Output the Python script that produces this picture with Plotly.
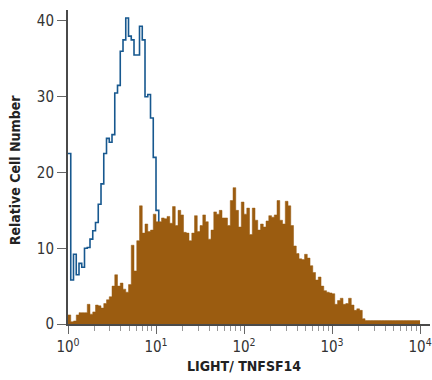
import plotly.graph_objects as go

# Histogram channels: 128 log-spaced bins spanning 10^0 .. 10^4
n_bins = 128
decades = 4

# Isotype control (blue outline) counts, first bins
control_counts = [22.5, 5.8, 9.2, 6.5, 8.0, 7.5, 10.0, 10.1, 11.2, 12.3,
                  13.4, 15.8, 18.5, 22.5, 24.5, 24.0, 25.0, 30.5, 31.5, 36.0,
                  37.5, 40.4, 38.0, 37.5, 35.5, 35.5, 39.3, 37.5, 30.0, 30.3,
                  27.2, 22.0, 15.0, 11.5, 7.0, 4.0, 2.5, 1.5, 0.8, 0.3, 0.0]

# LIGHT/TNFSF14 stained (filled brown) counts
stained_counts = [1.2, 0.3, 0.4, 1.2, 1.5, 1.5, 1.5, 2.6, 1.3, 1.6,
                  2.5, 2.4, 2.1, 2.7, 3.2, 3.6, 5.0, 6.5, 5.0, 5.4,
                  4.6, 4.2, 5.2, 10.4, 7.0, 11.0, 15.6, 12.0, 13.2, 12.2,
                  12.4, 14.5, 13.5, 13.5, 14.0, 13.9, 14.2, 13.3, 15.5, 13.0,
                  15.0, 14.4, 12.1, 12.0, 11.0, 12.0, 14.3, 12.2, 13.0, 14.4,
                  13.5, 11.2, 12.4, 14.8, 14.5, 15.0, 14.0, 14.0, 13.0, 16.3,
                  18.0, 15.0, 12.8, 16.1, 14.5, 15.3, 11.8, 15.3, 13.7, 12.4,
                  13.2, 12.8, 13.6, 14.3, 14.1, 14.4, 16.3, 13.7, 13.2, 16.2,
                  15.6, 13.0, 10.3, 9.3, 8.6, 8.5, 9.2, 8.7, 7.7, 6.8,
                  5.8, 6.2, 5.0, 4.4, 4.2, 4.1, 4.0, 2.6, 3.1, 3.4,
                  2.6, 2.7, 3.4, 2.5, 1.8, 2.0, 1.8, 0.7] + [0.45] * 20

x_tick_vals = [1, 10, 100, 1000, 10000]
x_tick_text = ["10<sup>0</sup>", "10<sup>1</sup>", "10<sup>2</sup>",
               "10<sup>3</sup>", "10<sup>4</sup>"]
y_tick_vals = [0, 10, 20, 30, 40]
x_title = "LIGHT/ TNFSF14"
y_title = "Relative Cell Number"

edges = [10 ** (decades * i / n_bins) for i in range(n_bins + 1)]


def step_xy(counts):
    xs = edges[:len(counts) + 1]
    ys = list(counts) + [counts[-1]]
    return xs, ys


FONT = "Liberation Sans Narrow, DejaVu Sans Condensed, Arial Narrow, sans-serif"
BROWN = "#9b5c10"
BLUE = "#17588f"

fig = go.Figure()
cx, cy = step_xy(control_counts)
fig.add_trace(go.Scatter(x=cx, y=cy, mode="lines", line_shape="hv",
                         line=dict(color=BLUE, width=1.6), hoverinfo="skip"))
sx, sy = step_xy(stained_counts)
fig.add_trace(go.Scatter(x=sx, y=sy, mode="lines", line_shape="hv",
                         fill="tozeroy", fillcolor=BROWN,
                         line=dict(color=BROWN, width=0.5), hoverinfo="skip"))

minor_vals = [m * 10 ** d for d in range(decades) for m in range(2, 10)]

fig.update_layout(
    width=432, height=380,
    margin=dict(l=68, r=0, t=10, b=56),
    paper_bgcolor="white", plot_bgcolor="white",
    showlegend=False,
    font=dict(family=FONT, color="#333333", size=15),
    xaxis=dict(type="log", range=[0, 4.113], showgrid=False, zeroline=False,
               showline=True, linecolor="#4a4a4a", linewidth=2,
               ticks="outside", ticklen=8, tickcolor="#666666", tickwidth=1,
               tickmode="array", tickvals=x_tick_vals, ticktext=x_tick_text,
               ticklabeloverflow="allow",
               tickfont=dict(family=FONT, size=15, color="#333333"),
               minor=dict(tickmode="array", tickvals=minor_vals, ticks="outside",
                          ticklen=5, tickcolor="#999999", tickwidth=1,
                          showgrid=False)),
    yaxis=dict(range=[0, 41.45], showgrid=False, zeroline=False,
               showline=True, linecolor="#4a4a4a", linewidth=2,
               ticks="outside", ticklen=9, tickcolor="#666666", tickwidth=1,
               tickmode="array", tickvals=y_tick_vals,
               tickfont=dict(family=FONT, size=15, color="#333333")),
    annotations=[
        dict(text="<b>" + x_title + "</b>", xref="paper", yref="paper",
             x=(245 - 68) / 364, y=-(366 - 324) / 314, showarrow=False,
             xanchor="center", yanchor="middle",
             font=dict(family=FONT, size=14, color="#222222")),
        dict(text="<b>" + y_title + "</b>", xref="paper", yref="paper",
             x=-(68 - 15) / 364, y=(324 - 170) / 314, showarrow=False,
             textangle=-90, xanchor="center", yanchor="middle",
             font=dict(family=FONT, size=14, color="#222222")),
    ],
)

fig.write_html("out.html")
